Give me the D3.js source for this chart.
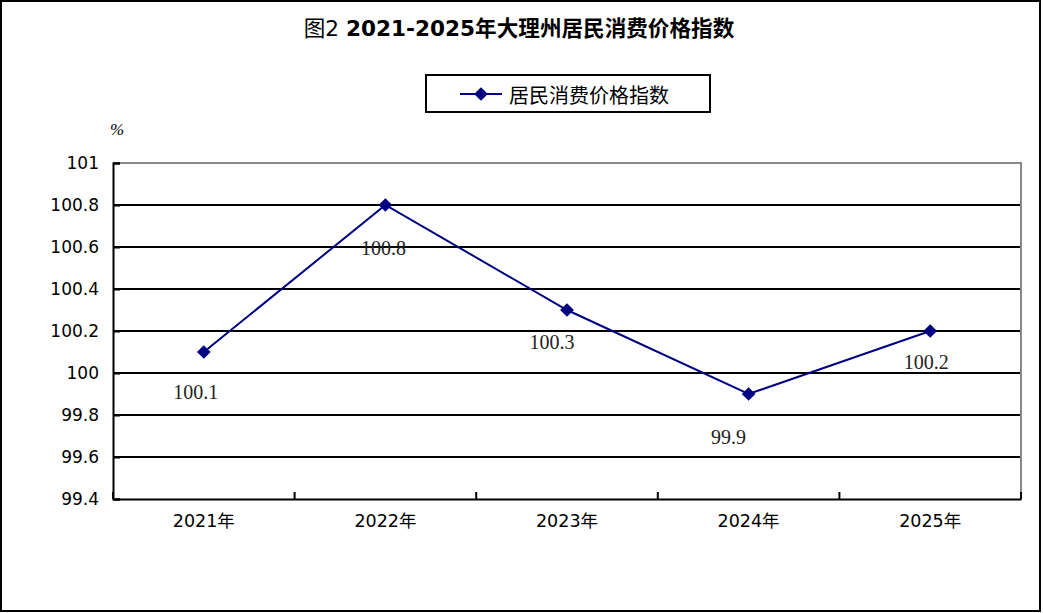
<!DOCTYPE html>
<html>
<head>
<meta charset="utf-8">
<script src="https://cdn.jsdelivr.net/npm/d3@7"></script>
<style>
  body { margin: 0; background: #fff; }
  svg { display: block; }
</style>
</head>
<body>
<div id="chart"></div>
<script>
// Data
const years = ["2021年", "2022年", "2023年", "2024年", "2025年"];
const cpi = [100.1, 100.8, 100.3, 99.9, 100.2];
const yTicks = [99.4, 99.6, 99.8, 100, 100.2, 100.4, 100.6, 100.8, 101];
const seriesName = "居民消费价格指数";

const width = 1043;
const height = 613;
const margin = {top: 163, right: 22, bottom: 114, left: 113};
const innerWidth = width - margin.left - margin.right;
const innerHeight = height - margin.top - margin.bottom;
const navy = "#000080";
const sans = "'DejaVu Sans', 'Noto Sans CJK SC', sans-serif";

// label nudges (Excel put them a bit left of the point)
const labelDx = [-8, -2, -15, -20, -4];
const labelDy = [40, 43, 32, 43, 31];

const svg = d3.select("#chart")
  .append("svg")
  .attr("width", width)
  .attr("height", height);

// outer frame
svg.append("rect")
  .attr("x", 1).attr("y", 1)
  .attr("width", width - 4).attr("height", height - 3)
  .attr("fill", "#fff")
  .attr("stroke", "#000")
  .attr("stroke-width", 2);

// title
const title = svg.append("text")
  .attr("x", 519)
  .attr("y", 36)
  .attr("text-anchor", "middle")
  .attr("font-family", sans)
  .attr("font-size", 21.6);
title.append("tspan").text("图2 ");
title.append("tspan").attr("font-weight", "bold").text("2021-2025年大理州居民消费价格指数");

// legend
const legend = svg.append("g");
legend.append("rect")
  .attr("x", 426).attr("y", 75)
  .attr("width", 284).attr("height", 37)
  .attr("fill", "#fff")
  .attr("stroke", "#000")
  .attr("stroke-width", 2);
legend.append("line")
  .attr("x1", 460).attr("x2", 502)
  .attr("y1", 94).attr("y2", 94)
  .attr("stroke", navy)
  .attr("stroke-width", 2);
legend.append("path")
  .attr("d", d3.symbol(d3.symbolDiamond2, 120)())
  .attr("transform", "translate(481, 94)")
  .attr("fill", navy);
legend.append("text")
  .text(seriesName)
  .attr("x", 509)
  .attr("y", 94)
  .attr("dominant-baseline", "central")
  .attr("font-family", "'Noto Sans CJK SC', sans-serif")
  .attr("font-size", 20)
  .attr("fill", "#000");

// unit
svg.append("text")
  .text("%")
  .attr("x", 117)
  .attr("y", 135)
  .attr("text-anchor", "middle")
  .attr("font-family", "'Liberation Serif', serif")
  .attr("font-style", "italic")
  .attr("font-size", 17);

const innerChart = svg.append("g")
  .attr("transform", `translate(${margin.left}, ${margin.top})`);

// scales
const xScale = d3.scaleBand()
  .domain(years)
  .range([0, innerWidth])
  .padding(0);
const yScale = d3.scaleLinear()
  .domain([99.4, 101])
  .range([innerHeight, 0]);

// gridlines
innerChart.selectAll(".grid")
  .data(yTicks.filter(d => d > 99.4 && d < 101))
  .join("line")
    .attr("class", "grid")
    .attr("x1", 0).attr("x2", innerWidth)
    .attr("y1", d => yScale(d)).attr("y2", d => yScale(d))
    .attr("stroke", "#000")
    .attr("stroke-width", 2);

// gray top and right border of plot area
innerChart.append("path")
  .attr("d", `M0,${yScale(101)}H${innerWidth}V${innerHeight}`)
  .attr("fill", "none")
  .attr("stroke", "#888")
  .attr("stroke-width", 2);

// left axis
const leftAxis = d3.axisLeft(yScale)
  .tickValues(yTicks)
  .tickSize(-7)
  .tickPadding(14)
  .tickFormat(d => d3.format("~f")(d));
const yAxisG = innerChart.append("g")
  .call(leftAxis);
yAxisG.selectAll("line").attr("stroke", "#000").attr("stroke-width", 2);
yAxisG.select(".domain").attr("stroke", "#000").attr("stroke-width", 2);
yAxisG.selectAll("text")
  .attr("fill", "#000")
  .attr("font-family", sans)
  .attr("font-size", 17);

// bottom axis
const bottomAxis = d3.axisBottom(xScale)
  .tickSize(0)
  .tickPadding(16);
const xAxisG = innerChart.append("g")
  .attr("transform", `translate(0, ${innerHeight})`)
  .call(bottomAxis);
xAxisG.select(".domain").attr("stroke", "#000").attr("stroke-width", 2);
xAxisG.selectAll("text")
  .attr("fill", "#000")
  .attr("font-family", sans)
  .attr("font-size", 17.5);

// category boundary ticks pointing up
const bounds = years.map(d => xScale(d)).concat([innerWidth]);
innerChart.selectAll(".xtick")
  .data(bounds)
  .join("line")
    .attr("class", "xtick")
    .attr("x1", d => d).attr("x2", d => d)
    .attr("y1", innerHeight).attr("y2", innerHeight - 7)
    .attr("stroke", "#000")
    .attr("stroke-width", 2);

// line
const cx = (d, i) => xScale(years[i]) + xScale.bandwidth() / 2;
const lineGenerator = d3.line()
  .x((d, i) => cx(d, i))
  .y(d => yScale(d));
innerChart.append("path")
  .attr("d", lineGenerator(cpi))
  .attr("fill", "none")
  .attr("stroke", navy)
  .attr("stroke-width", 2);

// markers
innerChart.selectAll(".marker")
  .data(cpi)
  .join("path")
    .attr("class", "marker")
    .attr("d", d3.symbol(d3.symbolDiamond2, 120)())
    .attr("transform", (d, i) => `translate(${cx(d, i)}, ${yScale(d)})`)
    .attr("fill", navy);

// data labels
innerChart.selectAll(".label")
  .data(cpi)
  .join("text")
    .attr("class", "label")
    .text(d => d)
    .attr("x", (d, i) => cx(d, i) + labelDx[i])
    .attr("y", (d, i) => yScale(d) + labelDy[i])
    .attr("text-anchor", "middle")
    .attr("dominant-baseline", "central")
    .attr("font-family", "'Liberation Serif', serif")
    .attr("font-size", 20)
    .attr("fill", "#222");
</script>
</body>
</html>
